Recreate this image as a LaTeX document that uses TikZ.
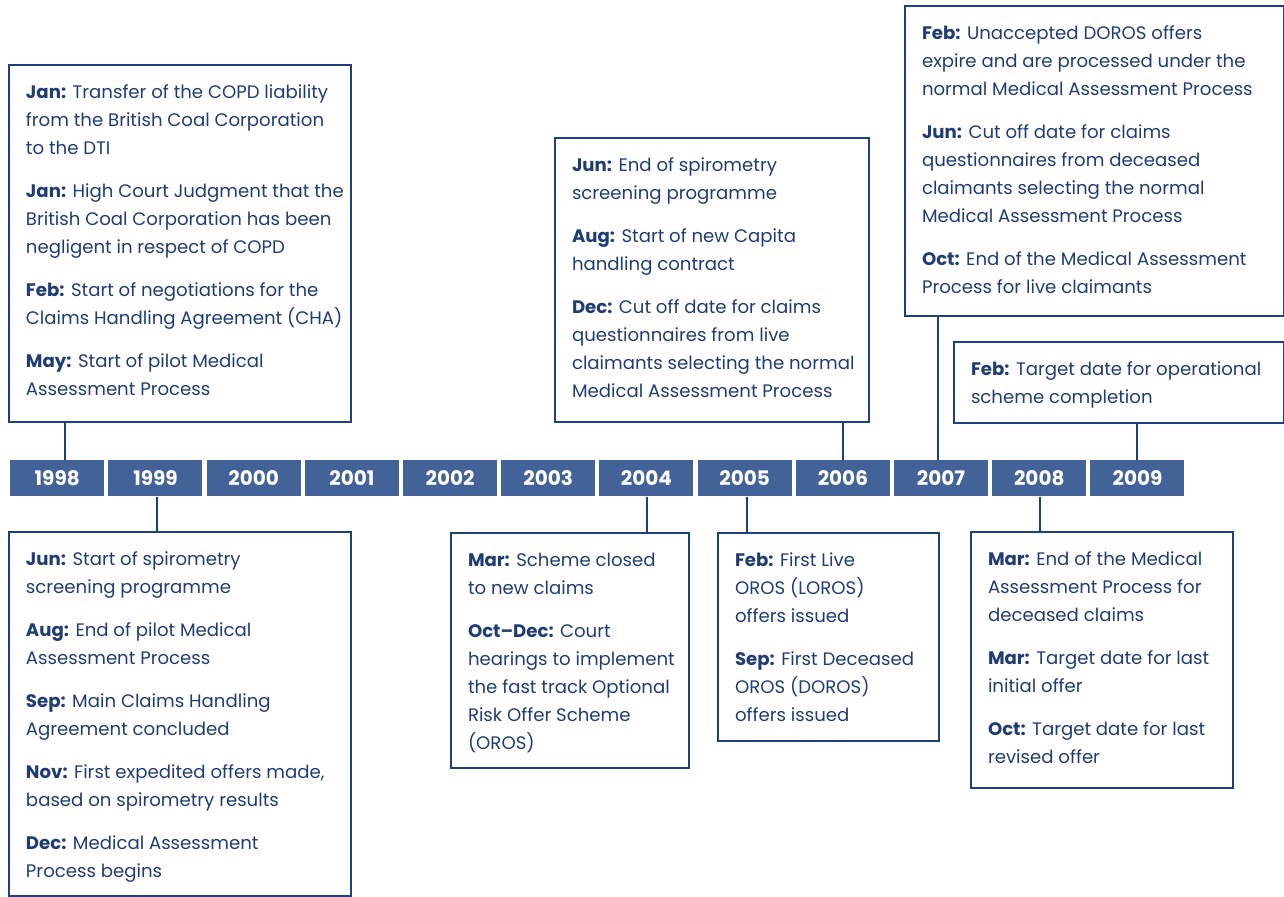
\documentclass[tikz,border=0pt]{standalone}
\usepackage{fontspec}
\setmainfont{Poppins}
\usetikzlibrary{calc}

\newlength\pxu
\setlength\pxu{0.75pt}

\definecolor{tlnavy}{RGB}{32,60,116}
\definecolor{tlborder}{RGB}{30,64,128}
\definecolor{tlyear}{RGB}{66,98,152}

\newcommand\evfont{\fontsize{13.6}{21}\selectfont}
\newcommand\yearfont{\fontsize{15}{17}\selectfont\bfseries}
\newcommand\evsetup{\evfont\parindent=0pt\leftskip=17\pxu\rightskip=0pt plus 1fil\parskip=15\pxu\baselineskip=28\pxu\relax\rule{0pt}{33\pxu}}
\newcommand\mon[1]{\textbf{#1:}}

% event box: name, x, y, width, height, text (all in px)
\newcommand\evbox[6]{%
  \node[evbox, minimum width=#4\pxu, minimum height=#5\pxu] (#1) at (#2,#3)
    {\parbox[c][#5\pxu][t]{#4\pxu}{\evsetup #6}};}

\tikzset{
  evbox/.style={draw=tlborder, line width=2\pxu, inner sep=0pt, anchor=north west, text=tlnavy},
  yearbox/.style={fill=tlyear, minimum width=94\pxu, minimum height=36\pxu, inner sep=0pt,
    anchor=north west, text=white, font=\yearfont},
  link/.style={draw=tlborder, line width=2\pxu},
}

\begin{document}
\begin{tikzpicture}[x=0.75pt, y=-0.75pt]
\useasboundingbox (0,0) rectangle (1284,896);

% year strip
\foreach \yr [count=\i from 0] in {1998,1999,2000,2001,2002,2003,2004,2005,2006,2007,2008,2009}
  \node[yearbox] (y\yr) at ({10+98.2*\i},460) {\yr};

% events above the strip
\evbox{e1998}{8}{64}{342}{357}{%
\mon{Jan} Transfer of the COPD liability\\from the British Coal Corporation\\to the DTI\par
\mon{Jan} High Court Judgment that the\\British Coal Corporation has been\\negligent in respect of COPD\par
\mon{Feb} Start of negotiations for the\\Claims Handling Agreement (CHA)\par
\mon{May} Start of pilot Medical\\Assessment Process}

\evbox{e2006}{554}{137}{314}{284}{%
\mon{Jun} End of spirometry\\screening programme\par
\mon{Aug} Start of new Capita\\handling contract\par
\mon{Dec} Cut off date for claims\\questionnaires from live\\claimants selecting the normal\\Medical Assessment Process}

\evbox{e2007}{904}{5}{379}{310}{%
\mon{Feb} Unaccepted DOROS offers\\expire and are processed under the\\normal Medical Assessment Process\par
\mon{Jun} Cut off date for claims\\questionnaires from deceased\\claimants selecting the normal\\Medical Assessment Process\par
\mon{Oct} End of the Medical Assessment\\Process for live claimants}

\evbox{e2009}{953}{341}{330}{81}{%
\mon{Feb} Target date for operational\\scheme completion}

% events below the strip
\evbox{e1999}{8}{531}{342}{364}{%
\mon{Jun} Start of spirometry\\screening programme\par
\mon{Aug} End of pilot Medical\\Assessment Process\par
\mon{Sep} Main Claims Handling\\Agreement concluded\par
\mon{Nov} First expedited offers made,\\based on spirometry results\par
\mon{Dec} Medical Assessment\\Process begins}

\evbox{e2004}{450}{532}{238}{235}{%
\mon{Mar} Scheme closed\\to new claims\par
\mon{Oct--Dec} Court\\hearings to implement\\the fast track Optional\\Risk Offer Scheme\\(OROS)}

\evbox{e2005}{717}{532}{221}{208}{%
\mon{Feb} First Live\\OROS (LOROS)\\offers issued\par
\mon{Sep} First Deceased\\OROS (DOROS)\\offers issued}

\evbox{e2008}{970}{531}{262}{256}{%
\mon{Mar} End of the Medical\\Assessment Process for\\deceased claims\par
\mon{Mar} Target date for last\\initial offer\par
\mon{Oct} Target date for last\\revised offer}

% connectors from the strip to the boxes
\foreach \yr/\dx/\side/\ev in {1998/8/north/e1998.south, 2006/0/north/e2006.south,
  2007/-3/north/e2007.south, 2009/0/north/e2009.south,
  1999/2/south/e1999.north, 2004/1/south/e2004.north,
  2005/2.5/south/e2005.north, 2008/1/south/e2008.north} {
  \coordinate (c\yr) at ($(y\yr.\side)+(\dx,0)$);
  \draw[link] (c\yr) -- (c\yr |- \ev);
}
\end{tikzpicture}
\end{document}
